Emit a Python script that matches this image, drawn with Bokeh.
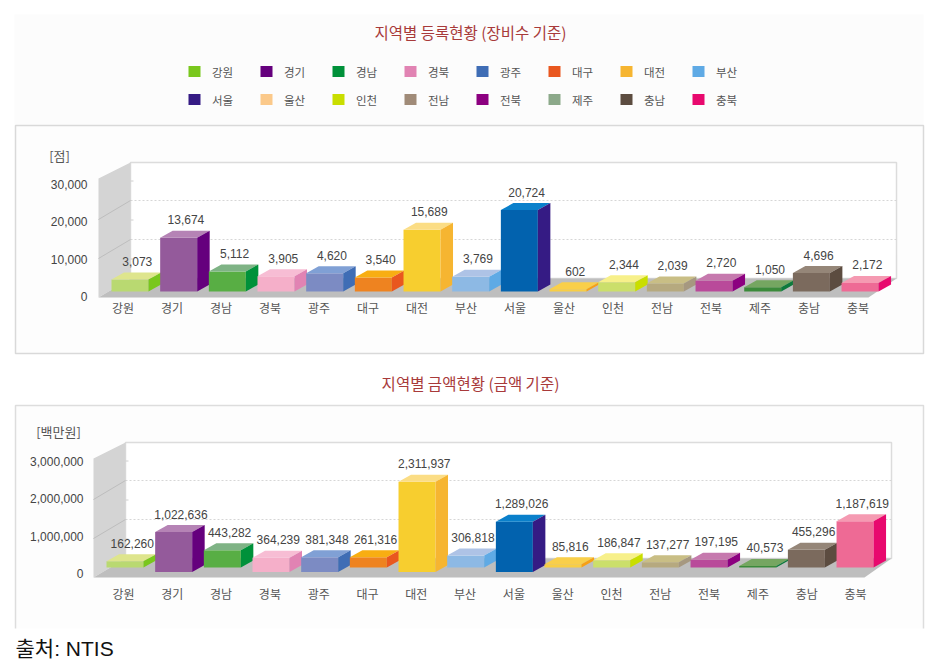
from bokeh.plotting import figure
from bokeh.models import Range1d, LinearAxis, FixedTicker, NumeralTickFormatter
from bokeh.layouts import column
from bokeh.core.properties import value
from bokeh.embed import file_html
from bokeh.resources import INLINE

regions = ["강원", "경기", "경남", "경북", "광주", "대구", "대전", "부산",
           "서울", "울산", "인천", "전남", "전북", "제주", "충남", "충북"]
equipment_counts = [3073, 13674, 5112, 3905, 4620, 3540, 15689, 3769,
                    20724, 602, 2344, 2039, 2720, 1050, 4696, 2172]
amounts = [162260, 1022636, 443282, 364239, 381348, 261316, 2311937, 306818,
           1289026, 85816, 186847, 137277, 197195, 40573, 455296, 1187619]
front_colors = ["#B9D971", "#945A9B", "#58AE44", "#F5AFC9", "#7C8BC3", "#EE8320", "#F7CE2F", "#8DB9E4",
                "#0262AE", "#F8CE44", "#CBDF6B", "#B6A97F", "#B94A9A", "#3B8A3A", "#7B6A5D", "#EE6A95"]
top_colors = ["#DEE58D", "#B583B5", "#7FB385", "#F7BDD4", "#80A0D5", "#F8AE12", "#FBDD85", "#AEC3E6",
              "#0A80CB", "#F9CF4A", "#F7F08A", "#C9BE85", "#C679AE", "#75A661", "#958678", "#F59AB2"]
side_colors = ["#79C71D", "#65007D", "#00913A", "#E183B3", "#3F6DB5", "#E9571F", "#F6B531", "#5FAAE5",
               "#351B84", "#F8A014", "#C9DE00", "#A69880", "#8C0080", "#0C7A3C", "#5C4C40", "#E8096E"]
legend_colors = ["#79C71D", "#65007D", "#00913A", "#E183B3", "#3F6DB5", "#E9571F", "#F6B531", "#5FAAE5",
                 "#351B84", "#FBC98A", "#C9DE00", "#A08B78", "#8C0080", "#8CA98A", "#5C4C40", "#E8096E"]
title_top = "지역별 등록현황 (장비수 기준)"
title_bottom = "지역별 금액현황 (금액 기준)"
unit_top = "[점]"
unit_bottom = "[백만원]"
source_text = "출처: NTIS"
ticks_top = [0, 10000, 20000, 30000]
ticks_bottom = [0, 1000000, 2000000, 3000000]
raised_bottom = {"강원", "경남", "대구", "부산", "울산", "인천", "전남", "전북", "제주", "충남", "충북"}

KR = "Noto Sans CJK KR"
LAT = "Liberation Sans"
W = 931
STEP = 48.67


def make_chart(py_top, py_bottom, cx0, zero_py, k, ticks, axis_right, tick_zero, tick_step, lab_x0, lab_step):
    h = py_bottom - py_top
    p = figure(width=W, height=h, output_backend="svg", toolbar_location=None,
               x_axis_type=None, y_axis_type=None, min_border=0,
               x_range=Range1d((0 - cx0) / STEP, (W - cx0) / STEP),
               y_range=Range1d((zero_py - py_bottom) / k, (zero_py - py_top) / k))
    p.grid.visible = False
    p.outline_line_color = None
    p.background_fill_color = "white"
    p.border_fill_color = "white"
    p.extra_x_ranges["px"] = Range1d(0, W)
    p.extra_y_ranges["px"] = Range1d(py_bottom, py_top)
    # value axis: its labels sit on a slightly tighter scale than the wall
    p.extra_y_ranges["axis"] = Range1d((tick_zero - py_bottom) / tick_step * ticks[1],
                                       (tick_zero - py_top) / tick_step * ticks[1])
    p.extra_x_ranges["lab"] = Range1d((0 - lab_x0) / lab_step, (W - lab_x0) / lab_step)
    yax = LinearAxis(y_range_name="axis", x_range_name="px", fixed_location=axis_right,
                     ticker=FixedTicker(ticks=ticks), axis_line_color=None,
                     major_tick_line_color=None, minor_tick_line_color=None,
                     major_label_standoff=0, major_label_text_font=LAT,
                     major_label_text_font_size="12px", major_label_text_color="#444444",
                     formatter=NumeralTickFormatter(format="0,0"))
    p.add_layout(yax, "left")
    return p


def px_rect(p, x0, y0, x1, y1, **kw):
    p.quad(left=[x0], right=[x1], top=[y0], bottom=[y1], x_range_name="px", y_range_name="px", **kw)


def px_line(p, xs, ys, **kw):
    p.line(xs, ys, x_range_name="px", y_range_name="px", **kw)


def px_text(p, x, y, t, size, color="#555555", align="center", font=KR):
    p.text([x], [y], text=[t], x_range_name="px", y_range_name="px", text_align=align,
           text_baseline="middle", text_font=value(font), text_font_size=size, text_color=color)


def draw_scene(p, wl, wt, wr, wb, fl, fr, fb, zero_py, k, bar_values, base_for, bar_w=37, dx=12.5, dy=7):
    px_rect(p, wl, wt, wr, wb, fill_color="#FFFFFF", line_color="#DCDCDC", line_width=1.5)
    p.patch([fl, wl, wl, fl], [fb - 119, wt, wb, fb], fill_color="#D4D4D4", line_color=None,
            x_range_name="px", y_range_name="px")
    p.patch([fl, wl, wr, fr], [fb, wb, wb, fb], fill_color="#BEBEBE", line_color=None,
            x_range_name="px", y_range_name="px")
    for lv in (1, 2):
        gy = wb - lv * 39
        px_line(p, [wl, wr], [gy, gy], line_color="#D6D6D6", line_dash="2 2", line_width=1)
        px_line(p, [fl, wl], [fb - lv * 39, gy], line_color="#BDBDBD", line_width=1)
    for lv in (0.5, 1.5, 2.5):
        gy = wb - lv * 39
        px_line(p, [wl, wl + 3], [gy, gy], line_color="#D0D0D0", line_width=1)
    bw = bar_w / STEP
    ddx = dx / STEP
    ddy = dy / k
    for i, v in enumerate(bar_values):
        b = (zero_py - base_for(regions[i])) / k
        t = b + v
        l, r = i - bw / 2, i + bw / 2
        p.patch([l, r, r, l], [b, b, t, t], fill_color=front_colors[i], line_color=None)
        p.patch([l, r, r + ddx, l + ddx], [t, t, t + ddy, t + ddy], fill_color=top_colors[i], line_color=None)
        p.patch([r, r + ddx, r + ddx, r], [b, b + ddy, t + ddy, t], fill_color=side_colors[i], line_color=None)
        p.text([i + ddx / 2], [t + ddy], text=[f"{v:,}"], y_offset=-11, x_offset=1,
               text_align="center", text_baseline="middle", text_font=value(LAT),
               text_font_size="12px", text_color="#444444")


def category_labels(p, lab_y):
    for i, name in enumerate(regions):
        p.text([i], [lab_y], text=[name], x_range_name="lab", y_range_name="px",
               text_align="center", text_baseline="middle", text_font=value(KR),
               text_font_size="12px", text_color="#555555")


# ---------- top chart
p1 = make_chart(0, 360, 129.5, 297, 0.00393, ticks_top, 93, 296, 37.3, 122.5, 49.0)
px_rect(p1, 14, 14, 923, 124, fill_color="#FCFCFC", line_color=None)
px_rect(p1, 15, 125, 923, 353, fill_color="#FDFDFD", line_color="#D9D9D9", line_width=1.5)
draw_scene(p1, 130, 162, 896, 278, 98, 868, 297, 297, 0.00393, equipment_counts, lambda n: 291)
category_labels(p1, 306.5)
px_text(p1, 470, 31.5, title_top, "15.5px", "#A83A3A")
px_text(p1, 59, 155, unit_top, "13px")
for i, name in enumerate(regions):
    col, row = i % 8, i // 8
    sx = 188 + col * 72
    sy = 71 + row * 28
    px_rect(p1, sx, sy - 5.5, sx + 12, sy + 5.5, fill_color=legend_colors[i], line_color=None)
    px_text(p1, sx + 34, sy, name, "11.5px")

# ---------- bottom chart
p2 = make_chart(360, 668, 124.5, 577, 0.000039, ticks_bottom, 89, 573, 37.4, 123, 48.8)
px_rect(p2, 15, 405, 923, 628, fill_color="#FDFDFD", line_color=None)
px_line(p2, [15, 15, 923, 923], [628, 405, 405, 628], line_color="#DDDDDD", line_width=1.5)
draw_scene(p2, 125, 442, 891, 558, 93, 864, 577, 577, 0.000039, amounts,
           lambda n: 567 if n in raised_bottom else 571.5)
category_labels(p2, 593)
px_text(p2, 470, 382.5, title_bottom, "15.5px", "#A83A3A")
px_text(p2, 58, 431, unit_bottom, "13px")
px_text(p2, 15, 647.5, source_text, "21px", "#111111", "left", LAT + ", " + KR)

page = column(p1, p2, spacing=0)
open("out.html", "w").write(file_html(page, INLINE))
